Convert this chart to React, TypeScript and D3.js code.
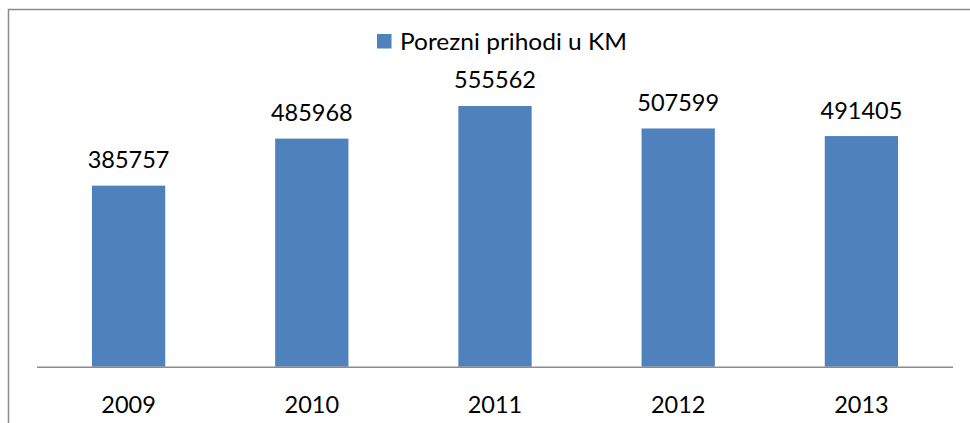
import React, { useEffect, useRef } from "react";
import * as d3 from "d3";

const years = ["2009", "2010", "2011", "2012", "2013"];
const revenue = [385757, 485968, 555562, 507599, 491405];
const seriesName = "Porezni prihodi u KM";

const W = 970;
const H = 423;
const FONT = "Lato, 'Open Sans', sans-serif";

export default function App() {
  const ref = useRef<SVGSVGElement | null>(null);

  useEffect(() => {
    document.body.style.margin = "0";
    const svg = d3.select(ref.current);
    svg.selectAll("*").remove();

    // chart frame (runs off the right and bottom edge)
    svg
      .append("rect")
      .attr("x", 8.5)
      .attr("y", 9.5)
      .attr("width", W + 10)
      .attr("height", H + 10)
      .attr("fill", "#fff")
      .attr("stroke", "#8c8c8c")
      .attr("stroke-width", 1.5);

    const x = d3
      .scaleBand()
      .domain(years)
      .range([37, 953])
      .paddingInner(0.6)
      .paddingOuter(0.3);

    const y = d3.scaleLinear().domain([0, 600000]).range([366.7, 85.1]);

    const data = years.map((yr, i) => ({ yr, v: revenue[i] }));

    svg
      .selectAll("rect.bar")
      .data(data)
      .enter()
      .append("rect")
      .attr("class", "bar")
      .attr("x", (d) => x(d.yr)!)
      .attr("y", (d) => y(d.v))
      .attr("width", x.bandwidth())
      .attr("height", (d) => y(0) - y(d.v))
      .attr("fill", "#4f81bd");

    // category axis line
    svg
      .append("line")
      .attr("x1", 37)
      .attr("x2", 953)
      .attr("y1", y(0) + 0.5)
      .attr("y2", y(0) + 0.5)
      .attr("stroke", "#8c8c8c")
      .attr("stroke-width", 1.5);

    // value labels
    svg
      .selectAll("text.val")
      .data(data)
      .enter()
      .append("text")
      .attr("class", "val")
      .attr("x", (d) => x(d.yr)! + x.bandwidth() / 2)
      .attr("y", (d) => y(d.v) - 17.5)
      .attr("text-anchor", "middle")
      .attr("font-family", FONT)
      .attr("font-size", 23.5)
      .attr("fill", "#000")
      .text((d) => String(d.v));

    // category labels
    svg
      .selectAll("text.cat")
      .data(years)
      .enter()
      .append("text")
      .attr("class", "cat")
      .attr("x", (d) => x(d)! + x.bandwidth() / 2)
      .attr("y", 413)
      .attr("text-anchor", "middle")
      .attr("font-family", FONT)
      .attr("font-size", 23.5)
      .attr("fill", "#000")
      .text((d) => d);

    // legend
    svg
      .append("rect")
      .attr("x", 377)
      .attr("y", 34)
      .attr("width", 14.5)
      .attr("height", 14.5)
      .attr("fill", "#4f81bd");
    svg
      .append("text")
      .attr("x", 400)
      .attr("y", 49.5)
      .attr("font-family", FONT)
      .attr("font-size", 23)
      .attr("textLength", 227)
      .attr("lengthAdjust", "spacingAndGlyphs")
      .attr("fill", "#000")
      .text(seriesName);
  }, []);

  return <svg ref={ref} width={W} height={H} style={{ display: "block" }} />;
}
